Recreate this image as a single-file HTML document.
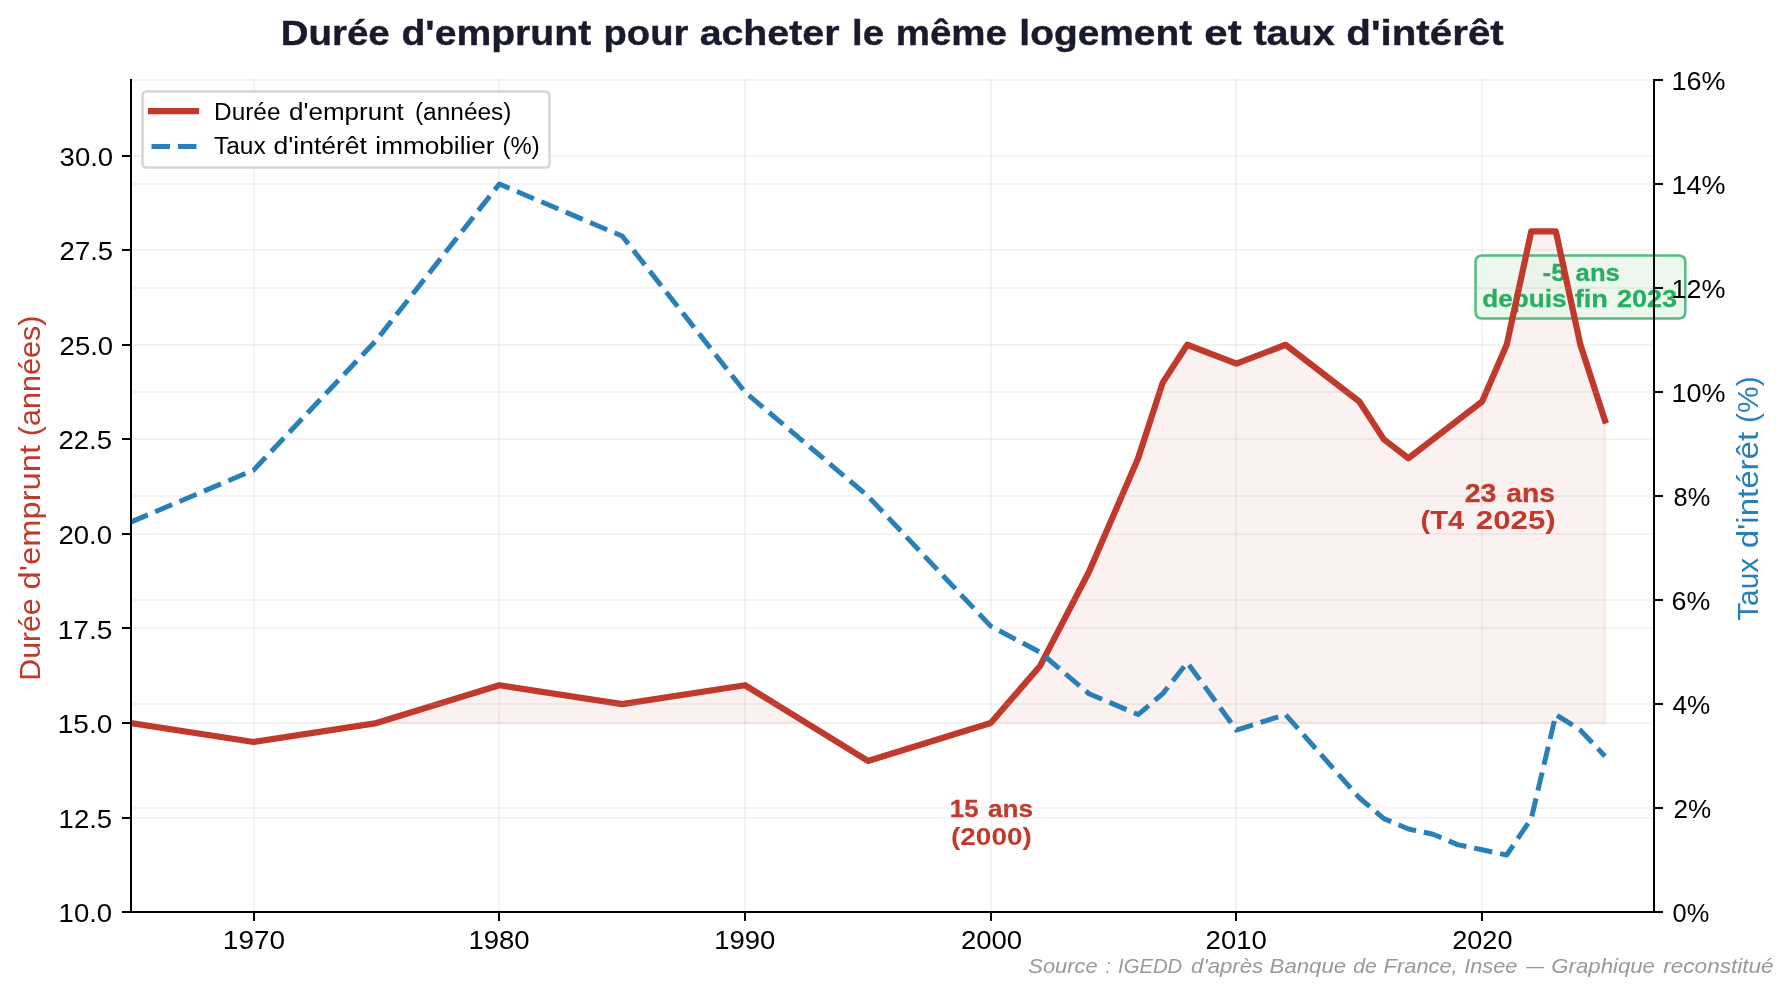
<!DOCTYPE html>
<html lang="fr"><head><meta charset="utf-8"><title>Durée d'emprunt et taux d'intérêt</title>
<style>
html,body{margin:0;padding:0;background:#fff}
body{width:1792px;height:994px;overflow:hidden}
svg{display:block;will-change:transform}
svg text{font-family:"Liberation Sans",sans-serif;white-space:pre}
</style></head><body>
<svg width="1792" height="994" viewBox="0 0 1792 994">
<defs><clipPath id="ax"><rect x="131" y="80" width="1523" height="832"/></clipPath></defs>
<rect width="1792" height="994" fill="#fff"/>
<path d="M376.46 723.06L376.46 723.06L499.31 723.06L622.16 723.06L745.01 723.06L806.44 723.06L745.01 685.24L622.16 704.15L499.31 685.24L376.46 723.06ZM990.72 723.06L990.72 723.06L1039.86 723.06L1089 723.06L1138.14 723.06L1162.71 723.06L1187.28 723.06L1236.43 723.06L1285.57 723.06L1359.28 723.06L1383.85 723.06L1408.42 723.06L1482.13 723.06L1506.7 723.06L1531.27 723.06L1555.84 723.06L1580.41 723.06L1604.98 723.06L1604.98 723.06L1604.98 420.45L1580.41 344.79L1555.84 231.31L1531.27 231.31L1506.7 344.79L1482.13 401.53L1408.42 458.27L1383.85 439.36L1359.28 401.53L1285.57 344.79L1236.43 363.7L1187.28 344.79L1162.71 382.62L1138.14 458.27L1089 571.75L1039.86 666.32L990.72 723.06Z" fill="#c0392b" fill-opacity="0.07" stroke="#c0392b" stroke-opacity="0.07" stroke-width="2.5" stroke-linejoin="miter"/>
<rect x="253" y="79" width="2" height="834" fill="#b0b0b0" fill-opacity="0.15"/>
<rect x="253" y="912" width="2" height="9" fill="#000"/>
<text transform="matrix(1 0 0 1.05 0 949.2)" x="222.85" textLength="62.2" lengthAdjust="spacingAndGlyphs" font-size="25" fill="#000000">1970</text>
<rect x="498" y="79" width="2" height="834" fill="#b0b0b0" fill-opacity="0.15"/>
<rect x="498" y="912" width="2" height="9" fill="#000"/>
<text transform="matrix(1 0 0 1.05 0 949.2)" x="468.5" textLength="61.17" lengthAdjust="spacingAndGlyphs" font-size="25" fill="#000000">1980</text>
<rect x="744" y="79" width="2" height="834" fill="#b0b0b0" fill-opacity="0.15"/>
<rect x="744" y="912" width="2" height="9" fill="#000"/>
<text transform="matrix(1 0 0 1.05 0 949.2)" x="714.26" textLength="61.17" lengthAdjust="spacingAndGlyphs" font-size="25" fill="#000000">1990</text>
<rect x="990" y="79" width="2" height="834" fill="#b0b0b0" fill-opacity="0.15"/>
<rect x="990" y="912" width="2" height="9" fill="#000"/>
<text transform="matrix(1 0 0 1.05 0 949.2)" x="960.91" textLength="61.17" lengthAdjust="spacingAndGlyphs" font-size="25" fill="#000000">2000</text>
<rect x="1235" y="79" width="2" height="834" fill="#b0b0b0" fill-opacity="0.15"/>
<rect x="1235" y="912" width="2" height="9" fill="#000"/>
<text transform="matrix(1 0 0 1.05 0 948.7)" x="1205.61" textLength="61.17" lengthAdjust="spacingAndGlyphs" font-size="25" fill="#000000">2010</text>
<rect x="1481" y="79" width="2" height="834" fill="#b0b0b0" fill-opacity="0.15"/>
<rect x="1481" y="912" width="2" height="9" fill="#000"/>
<text transform="matrix(1 0 0 1.05 0 949.2)" x="1452.26" textLength="60.21" lengthAdjust="spacingAndGlyphs" font-size="25" fill="#000000">2020</text>
<rect x="130" y="911" width="1525" height="2" fill="#b0b0b0" fill-opacity="0.15"/>
<rect x="122" y="911" width="9" height="2" fill="#000"/>
<text transform="matrix(1 0 0 1.05 0 921.7)" x="58.6" textLength="53.53" lengthAdjust="spacingAndGlyphs" font-size="25" fill="#000000">10.0</text>
<rect x="130" y="817" width="1525" height="2" fill="#b0b0b0" fill-opacity="0.15"/>
<rect x="122" y="817" width="9" height="2" fill="#000"/>
<text transform="matrix(1 0 0 1.05 0 827.63)" x="58.6" textLength="53.53" lengthAdjust="spacingAndGlyphs" font-size="25" fill="#000000">12.5</text>
<rect x="130" y="722" width="1525" height="2" fill="#b0b0b0" fill-opacity="0.15"/>
<rect x="122" y="722" width="9" height="2" fill="#000"/>
<text transform="matrix(1 0 0 1.05 0 733.06)" x="57.75" textLength="54.58" lengthAdjust="spacingAndGlyphs" font-size="25" fill="#000000">15.0</text>
<rect x="130" y="627" width="1525" height="2" fill="#b0b0b0" fill-opacity="0.15"/>
<rect x="122" y="627" width="9" height="2" fill="#000"/>
<text transform="matrix(1 0 0 1.05 0 638.5)" x="57.75" textLength="54.58" lengthAdjust="spacingAndGlyphs" font-size="25" fill="#000000">17.5</text>
<rect x="130" y="533" width="1525" height="2" fill="#b0b0b0" fill-opacity="0.15"/>
<rect x="122" y="533" width="9" height="2" fill="#000"/>
<text transform="matrix(1 0 0 1.05 0 543.93)" x="58.5" textLength="53.51" lengthAdjust="spacingAndGlyphs" font-size="25" fill="#000000">20.0</text>
<rect x="130" y="438" width="1525" height="2" fill="#b0b0b0" fill-opacity="0.15"/>
<rect x="122" y="438" width="9" height="2" fill="#000"/>
<text transform="matrix(1 0 0 1.05 0 449.36)" x="58.5" textLength="53.51" lengthAdjust="spacingAndGlyphs" font-size="25" fill="#000000">22.5</text>
<rect x="130" y="344" width="1525" height="2" fill="#b0b0b0" fill-opacity="0.15"/>
<rect x="122" y="344" width="9" height="2" fill="#000"/>
<text transform="matrix(1 0 0 1.05 0 354.79)" x="59.62" textLength="53.51" lengthAdjust="spacingAndGlyphs" font-size="25" fill="#000000">25.0</text>
<rect x="130" y="249" width="1525" height="2" fill="#b0b0b0" fill-opacity="0.15"/>
<rect x="122" y="249" width="9" height="2" fill="#000"/>
<text transform="matrix(1 0 0 1.05 0 260.22)" x="59.62" textLength="53.51" lengthAdjust="spacingAndGlyphs" font-size="25" fill="#000000">27.5</text>
<rect x="130" y="155" width="1525" height="2" fill="#b0b0b0" fill-opacity="0.15"/>
<rect x="122" y="155" width="9" height="2" fill="#000"/>
<text transform="matrix(1 0 0 1.05 0 165.65)" x="59.62" textLength="53.51" lengthAdjust="spacingAndGlyphs" font-size="25" fill="#000000">30.0</text>
<text transform="translate(39.5,680.66) rotate(-90) scale(1,1.06)" font-size="27.5" fill="#c0392b"><tspan x="0" textLength="82.33" lengthAdjust="spacingAndGlyphs">Durée</tspan> <tspan x="91.12" textLength="144.61" lengthAdjust="spacingAndGlyphs">d'emprunt</tspan> <tspan x="244.47" textLength="120.75" lengthAdjust="spacingAndGlyphs">(années)</tspan></text>
<rect x="130" y="79" width="2" height="834" fill="#000000"/>
<rect x="1653" y="79" width="2" height="834" fill="#000000"/>
<rect x="130" y="911" width="1525" height="2" fill="#000000"/>
<text transform="matrix(1 0 0 1.05 0 816.9)" font-size="22.5" fill="#c0392b" stroke="#c0392b" stroke-width="0.25" font-weight="bold"><tspan x="949.83" textLength="28.67" lengthAdjust="spacingAndGlyphs">15</tspan> <tspan x="988.05" textLength="44.99" lengthAdjust="spacingAndGlyphs">ans</tspan></text>
<text transform="matrix(1 0 0 1.05 0 844.5)" x="951.03" textLength="80.72" lengthAdjust="spacingAndGlyphs" font-size="22.5" fill="#c0392b" font-weight="bold">(2000)</text>
<text transform="matrix(1 0 0 1.05 0 502.05)" font-size="25" fill="#c0392b" stroke="#c0392b" stroke-width="0.25" font-weight="bold"><tspan x="1464.73" textLength="31.73" lengthAdjust="spacingAndGlyphs">23</tspan> <tspan x="1506.25" textLength="48.69" lengthAdjust="spacingAndGlyphs">ans</tspan></text>
<text transform="matrix(1 0 0 1.05 0 528.85)" font-size="25" fill="#c0392b" font-weight="bold"><tspan x="1420.45" textLength="43.7" lengthAdjust="spacingAndGlyphs">(T4</tspan> <tspan x="1475.84" textLength="79.88" lengthAdjust="spacingAndGlyphs">2025)</tspan></text>
<path d="M1482.29 318.6L1678.54 318.6Q1685.29 318.6 1685.29 311.85L1685.29 262.25Q1685.29 255.5 1678.54 255.5L1482.29 255.5Q1475.54 255.5 1475.54 262.25L1475.54 311.85Q1475.54 318.6 1482.29 318.6Z" fill="#e8f5e9" fill-opacity="0.8" stroke="#27ae60" stroke-opacity="0.8" stroke-width="2.5"/>
<text transform="matrix(1 0 0 1.05 0 280.75)" font-size="22.5" fill="#27ae60" stroke="#27ae60" stroke-width="0.25" font-weight="bold"><tspan x="1542.62" textLength="22.84" lengthAdjust="spacingAndGlyphs">-5</tspan> <tspan x="1575.62" textLength="44.23" lengthAdjust="spacingAndGlyphs">ans</tspan></text>
<text transform="matrix(1 0 0 1.05 0 307.35)" font-size="22.5" fill="#27ae60" stroke="#27ae60" stroke-width="0.25" font-weight="bold"><tspan x="1482.31" textLength="84.34" lengthAdjust="spacingAndGlyphs">depuis</tspan> <tspan x="1574.66" textLength="33.13" lengthAdjust="spacingAndGlyphs">fin</tspan> <tspan x="1616.91" textLength="60.32" lengthAdjust="spacingAndGlyphs">2023</tspan></text>
<text transform="matrix(1 0 0 1.06 0 44.5)" font-size="32.5" fill="#1a1a2e" stroke="#1a1a2e" stroke-width="0.35" font-weight="bold"><tspan x="280.75" textLength="109.02" lengthAdjust="spacingAndGlyphs">Durée</tspan> <tspan x="401.45" textLength="189.75" lengthAdjust="spacingAndGlyphs">d'emprunt</tspan> <tspan x="603.53" textLength="84.78" lengthAdjust="spacingAndGlyphs">pour</tspan> <tspan x="699.7" textLength="139.74" lengthAdjust="spacingAndGlyphs">acheter</tspan> <tspan x="852.09" textLength="31.94" lengthAdjust="spacingAndGlyphs">le</tspan> <tspan x="895.75" textLength="111.25" lengthAdjust="spacingAndGlyphs">même</tspan> <tspan x="1019.36" textLength="172.77" lengthAdjust="spacingAndGlyphs">logement</tspan> <tspan x="1204.34" textLength="37.3" lengthAdjust="spacingAndGlyphs">et</tspan> <tspan x="1253.44" textLength="81.33" lengthAdjust="spacingAndGlyphs">taux</tspan> <tspan x="1346.28" textLength="157.5" lengthAdjust="spacingAndGlyphs">d'intérêt</tspan></text>
<path d="M130.75 723.06L253.6 741.98L376.46 723.06L499.31 685.24L622.16 704.15L745.01 685.24L867.87 760.89L990.72 723.06L1039.86 666.32L1089 571.75L1138.14 458.27L1162.71 382.62L1187.28 344.79L1236.43 363.7L1285.57 344.79L1359.28 401.53L1383.85 439.36L1408.42 458.27L1482.13 401.53L1506.7 344.79L1531.27 231.31L1555.84 231.31L1580.41 344.79L1604.98 420.45" fill="none" stroke="#c0392b" stroke-width="6.25" stroke-linecap="square" stroke-linejoin="round" clip-path="url(#ax)"/>
<path d="M146.5 167.5L545.5 167.5Q549.5 167.5 549.5 163.5L549.5 96.5Q549.5 91.5 545.5 91.5L146.5 91.5Q142.5 91.5 142.5 96.5L142.5 163.5Q142.5 167.5 146.5 167.5Z" fill="#ffffff" fill-opacity="0.8" stroke="#cccccc" stroke-opacity="0.8" stroke-width="2.5"/>
<path d="M151 111L173 111L196 111" fill="none" stroke="#c0392b" stroke-width="6.25" stroke-linecap="square" stroke-linejoin="round"/>
<text transform="matrix(1 0 0 1.05 0 119.75)" font-size="22.5" fill="#000000"><tspan x="214.09" textLength="66.41" lengthAdjust="spacingAndGlyphs">Durée</tspan> <tspan x="289.11" textLength="114.73" lengthAdjust="spacingAndGlyphs">d'emprunt</tspan> <tspan x="414.92" textLength="96.61" lengthAdjust="spacingAndGlyphs">(années)</tspan></text>
<path d="M151.5 146.5L173.5 146.5L196.5 146.5" fill="none" stroke="#2980b9" stroke-width="5" stroke-linecap="butt" stroke-linejoin="round" stroke-dasharray="18.5 8"/>
<text transform="matrix(1 0 0 1.05 0 154)" font-size="22.5" fill="#000000"><tspan x="214" textLength="51.72" lengthAdjust="spacingAndGlyphs">Taux</tspan> <tspan x="273.49" textLength="93.5" lengthAdjust="spacingAndGlyphs">d'intérêt</tspan> <tspan x="375.36" textLength="119.21" lengthAdjust="spacingAndGlyphs">immobilier</tspan> <tspan x="502.51" textLength="37.06" lengthAdjust="spacingAndGlyphs">(%)</tspan></text>
<rect x="130" y="911" width="1525" height="2" fill="#b0b0b0" fill-opacity="0.15"/>
<rect x="1654" y="911" width="9" height="2" fill="#000"/>
<text transform="matrix(1 0 0 1.05 0 922.2)" x="1672.61" textLength="36.68" lengthAdjust="spacingAndGlyphs" font-size="25" fill="#000000">0%</text>
<rect x="130" y="807" width="1525" height="2" fill="#b0b0b0" fill-opacity="0.15"/>
<rect x="1654" y="807" width="9" height="2" fill="#000"/>
<text transform="matrix(1 0 0 1.05 0 818.17)" x="1673.62" textLength="37.68" lengthAdjust="spacingAndGlyphs" font-size="25" fill="#000000">2%</text>
<rect x="130" y="703" width="1525" height="2" fill="#b0b0b0" fill-opacity="0.15"/>
<rect x="1654" y="703" width="9" height="2" fill="#000"/>
<text transform="matrix(1 0 0 1.05 0 714.15)" x="1672.62" textLength="37.7" lengthAdjust="spacingAndGlyphs" font-size="25" fill="#000000">4%</text>
<rect x="130" y="599" width="1525" height="2" fill="#b0b0b0" fill-opacity="0.15"/>
<rect x="1654" y="599" width="9" height="2" fill="#000"/>
<text transform="matrix(1 0 0 1.05 0 610.12)" x="1671.62" textLength="38.69" lengthAdjust="spacingAndGlyphs" font-size="25" fill="#000000">6%</text>
<rect x="130" y="495" width="1525" height="2" fill="#b0b0b0" fill-opacity="0.15"/>
<rect x="1654" y="495" width="9" height="2" fill="#000"/>
<text transform="matrix(1 0 0 1.05 0 506.1)" x="1673.61" textLength="36.68" lengthAdjust="spacingAndGlyphs" font-size="25" fill="#000000">8%</text>
<rect x="130" y="391" width="1525" height="2" fill="#b0b0b0" fill-opacity="0.15"/>
<rect x="1654" y="391" width="9" height="2" fill="#000"/>
<text transform="matrix(1 0 0 1.05 0 402.07)" x="1671.62" textLength="53.98" lengthAdjust="spacingAndGlyphs" font-size="25" fill="#000000">10%</text>
<rect x="130" y="287" width="1525" height="2" fill="#b0b0b0" fill-opacity="0.15"/>
<rect x="1654" y="287" width="9" height="2" fill="#000"/>
<text transform="matrix(1 0 0 1.05 0 297.55)" x="1671.62" textLength="53.98" lengthAdjust="spacingAndGlyphs" font-size="25" fill="#000000">12%</text>
<rect x="130" y="183" width="1525" height="2" fill="#b0b0b0" fill-opacity="0.15"/>
<rect x="1654" y="183" width="9" height="2" fill="#000"/>
<text transform="matrix(1 0 0 1.05 0 194.02)" x="1671.62" textLength="53.98" lengthAdjust="spacingAndGlyphs" font-size="25" fill="#000000">14%</text>
<rect x="130" y="79" width="1525" height="2" fill="#b0b0b0" fill-opacity="0.15"/>
<rect x="1654" y="79" width="9" height="2" fill="#000"/>
<text transform="matrix(1 0 0 1.05 0 89.5)" x="1671.62" textLength="53.98" lengthAdjust="spacingAndGlyphs" font-size="25" fill="#000000">16%</text>
<text transform="translate(1758.25,620.81) rotate(-90) scale(1,1.06)" font-size="27.5" fill="#2980b9"><tspan x="0" textLength="63.06" lengthAdjust="spacingAndGlyphs">Taux</tspan> <tspan x="72.52" textLength="116.37" lengthAdjust="spacingAndGlyphs">d'intérêt</tspan> <tspan x="197.92" textLength="46.49" lengthAdjust="spacingAndGlyphs">(%)</tspan></text>
<path d="M130.75 522.11L253.6 470.09L376.46 340.06L499.31 184.02L622.16 236.04L745.01 392.08L867.87 496.1L990.72 626.13L1039.86 652.14L1089 693.75L1138.14 714.55L1162.71 693.75L1187.28 662.54L1236.43 730.16L1285.57 714.55L1359.28 797.77L1383.85 818.58L1408.42 828.98L1432.99 834.18L1457.56 844.58L1482.13 849.79L1506.7 854.99L1531.27 818.58L1555.84 714.55L1580.41 730.16L1604.98 756.16" fill="none" stroke="#2980b9" stroke-width="5" stroke-linecap="butt" stroke-linejoin="round" stroke-dasharray="18.5 8" clip-path="url(#ax)"/>
<rect x="130" y="79" width="2" height="834" fill="#000000"/>
<rect x="1653" y="79" width="2" height="834" fill="#000000"/>
<rect x="130" y="911" width="1525" height="2" fill="#000000"/>
<text transform="matrix(1 0 0 1.04 0 972.5)" font-size="20" fill="#999999" font-style="italic"><tspan x="1028.36" textLength="69.23" lengthAdjust="spacingAndGlyphs">Source</tspan> <tspan x="1105.88" textLength="4.93" lengthAdjust="spacingAndGlyphs">:</tspan> <tspan x="1118.06" textLength="64.11" lengthAdjust="spacingAndGlyphs">IGEDD</tspan> <tspan x="1191.1" textLength="72.05" lengthAdjust="spacingAndGlyphs">d'après</tspan> <tspan x="1269.6" textLength="76.48" lengthAdjust="spacingAndGlyphs">Banque</tspan> <tspan x="1353.26" textLength="23.59" lengthAdjust="spacingAndGlyphs">de</tspan> <tspan x="1383.61" textLength="74.1" lengthAdjust="spacingAndGlyphs">France,</tspan> <tspan x="1464.24" textLength="53.19" lengthAdjust="spacingAndGlyphs">Insee</tspan> <tspan x="1525.98" textLength="18.13" lengthAdjust="spacingAndGlyphs">—</tspan> <tspan x="1551.35" textLength="103.57" lengthAdjust="spacingAndGlyphs">Graphique</tspan> <tspan x="1663.23" textLength="110.46" lengthAdjust="spacingAndGlyphs">reconstitué</tspan></text>
</svg>
</body></html>
